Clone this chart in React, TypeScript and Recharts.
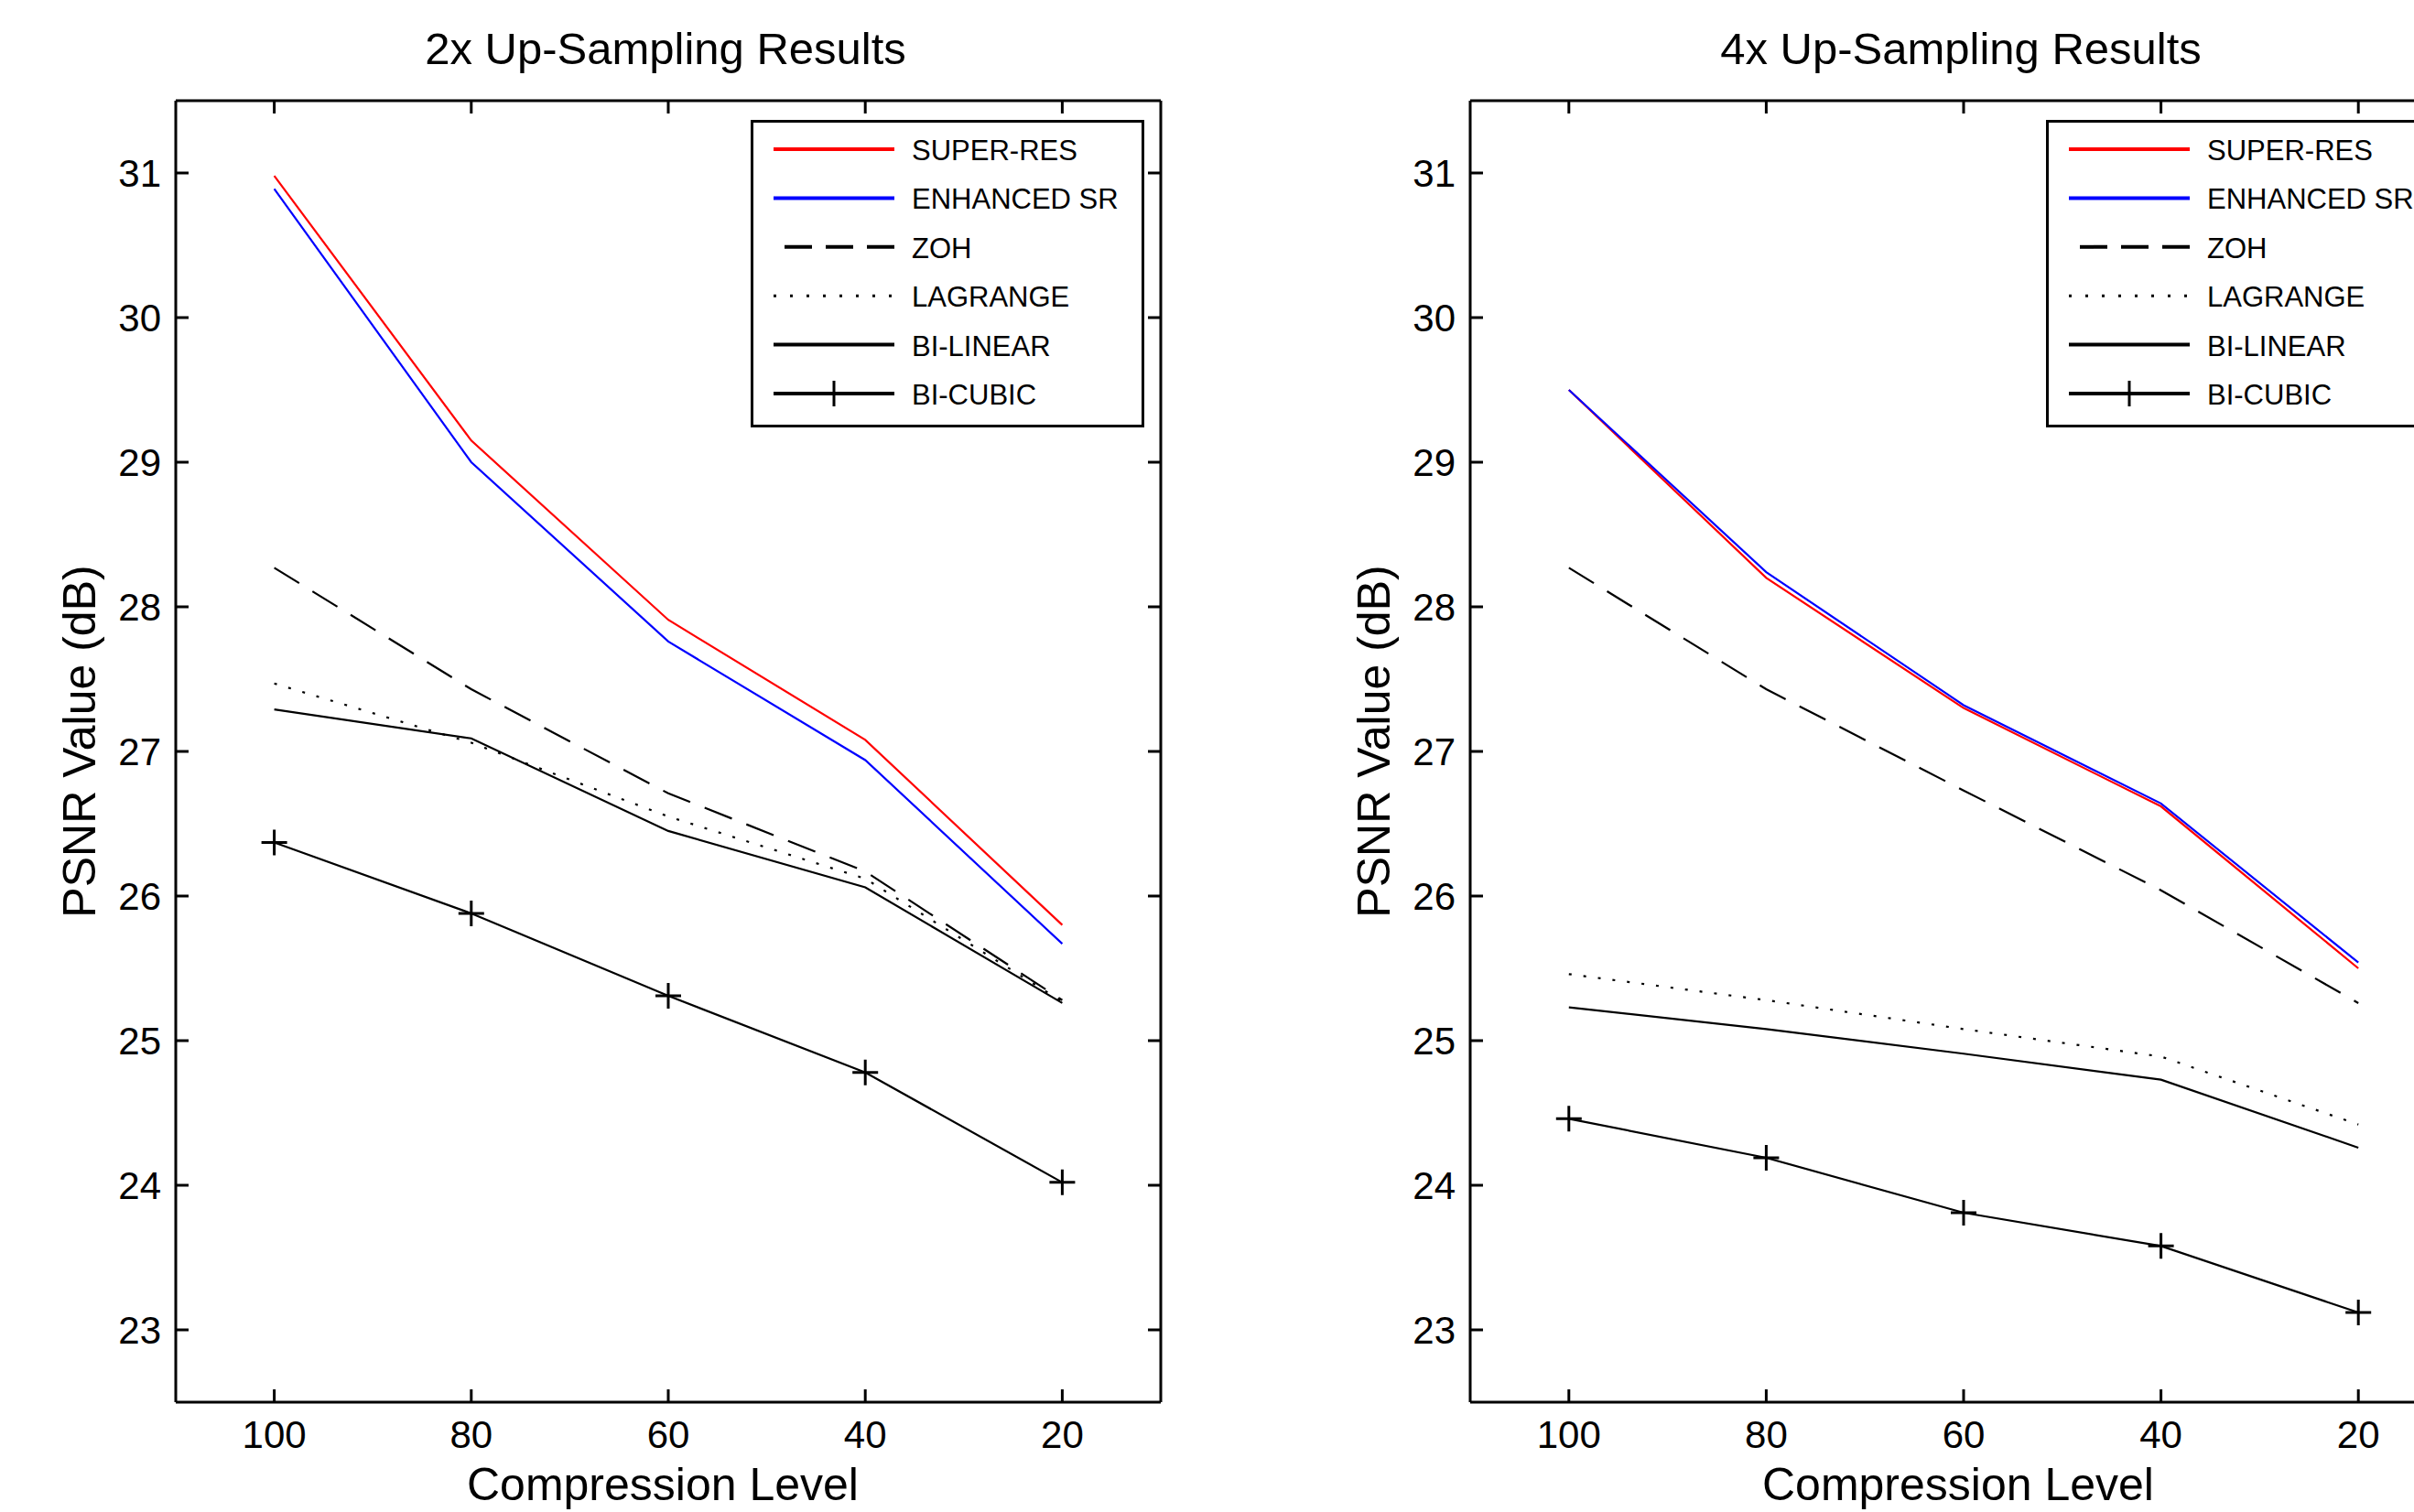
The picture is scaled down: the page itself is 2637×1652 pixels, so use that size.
import React from "react";
import { LineChart, Line, XAxis, YAxis, Legend, Label } from "recharts";

const FONT = '"Liberation Sans", Arial, sans-serif';

// compression levels on the x axis (plotted right-to-left)
const compressionLevels = [100, 80, 60, 40, 20];
const levelTicks = [100, 80, 60, 40, 20];
const psnrTicks = [23, 24, 25, 26, 27, 28, 29, 30, 31];

// 2x up-sampling PSNR (dB)
const superRes2x = [30.98, 29.15, 27.91, 27.08, 25.8];
const enhancedSr2x = [30.89, 29.0, 27.76, 26.94, 25.67];
const zoh2x = [28.27, 27.43, 26.71, 26.17, 25.28];
const lagrange2x = [27.47, 27.06, 26.55, 26.12, 25.27];
const bilinear2x = [27.29, 27.09, 26.45, 26.06, 25.26];
const bicubic2x = [26.37, 25.88, 25.31, 24.78, 24.02];

// 4x up-sampling PSNR (dB)
const superRes4x = [29.5, 28.2, 27.3, 26.62, 25.5];
const enhancedSr4x = [29.5, 28.24, 27.32, 26.64, 25.54];
const zoh4x = [28.27, 27.43, 26.73, 26.04, 25.26];
const lagrange4x = [25.46, 25.28, 25.08, 24.89, 24.42];
const bilinear4x = [25.23, 25.08, 24.91, 24.73, 24.26];
const bicubic4x = [24.46, 24.19, 23.81, 23.58, 23.12];

const series = [
  { key: "superRes", name: "SUPER-RES", color: "#ff0000", style: "solid", plus: false },
  { key: "enhancedSr", name: "ENHANCED SR", color: "#0000ff", style: "solid", plus: false },
  { key: "zoh", name: "ZOH", color: "#000000", style: "dashed", plus: false },
  { key: "lagrange", name: "LAGRANGE", color: "#000000", style: "dotted", plus: false },
  { key: "bilinear", name: "BI-LINEAR", color: "#000000", style: "solid", plus: false },
  { key: "bicubic", name: "BI-CUBIC", color: "#000000", style: "solid", plus: true },
];

const plotDash: Record<string, string | undefined> = { solid: undefined, dashed: "32 17", dotted: "3 13" };
const legendDash: Record<string, string | undefined> = { solid: undefined, dashed: "30 15", dotted: "3 15" };

const buildRows = (sr: number[], esr: number[], zoh: number[], lag: number[], bil: number[], bic: number[]) =>
  compressionLevels.map((level, i) => ({
    level,
    superRes: sr[i],
    enhancedSr: esr[i],
    zoh: zoh[i],
    lagrange: lag[i],
    bilinear: bil[i],
    bicubic: bic[i],
  }));

const rows2x = buildRows(superRes2x, enhancedSr2x, zoh2x, lagrange2x, bilinear2x, bicubic2x);
const rows4x = buildRows(superRes4x, enhancedSr4x, zoh4x, lagrange4x, bilinear4x, bicubic4x);

// MATLAB-style ticks point into the plot box
const BottomTick = (props: any) => {
  const { x, y, payload } = props;
  return (
    <g>
      <line x1={x} x2={x} y1={y} y2={y - 14} stroke="#000" strokeWidth={3} />
      <text x={x} y={y + 50} textAnchor="middle" fontSize={42} fontFamily={FONT} fill="#000">
        {payload.value}
      </text>
    </g>
  );
};

const LeftTick = (props: any) => {
  const { x, y, payload } = props;
  return (
    <g>
      <line x1={x} x2={x + 14} y1={y} y2={y} stroke="#000" strokeWidth={3} />
      <text x={x - 16} y={y + 15} textAnchor="end" fontSize={42} fontFamily={FONT} fill="#000">
        {payload.value}
      </text>
    </g>
  );
};

const TopTick = (props: any) => (
  <line x1={props.x} x2={props.x} y1={props.y} y2={props.y + 14} stroke="#000" strokeWidth={3} />
);

const RightTick = (props: any) => (
  <line x1={props.x} x2={props.x - 14} y1={props.y} y2={props.y} stroke="#000" strokeWidth={3} />
);

const PlusDot = (props: any) => {
  const { cx, cy } = props;
  if (cx == null || cy == null) return null;
  return (
    <path
      d={`M${cx - 14},${cy}H${cx + 14}M${cx},${cy - 14}V${cy + 14}`}
      stroke="#000"
      strokeWidth={3}
      fill="none"
    />
  );
};

// legend keeps the plotting order (recharts would sort it by name)
const LegendBox = () => (
  <svg width={430} height={336} style={{ display: "block" }}>
    <rect x={1.5} y={1.5} width={427} height={333} fill="#fff" stroke="#000" strokeWidth={3} />
    {series.map((s, i) => {
      const cy = 32 + i * 53.4;
      return (
        <g key={s.key}>
          <line
            x1={s.style === "dashed" ? 37 : 25}
            x2={157}
            y1={cy}
            y2={cy}
            stroke={s.color}
            strokeWidth={s.style === "dotted" ? 3 : 4}
            strokeDasharray={legendDash[s.style]}
          />
          {s.plus && <line x1={91} x2={91} y1={cy - 14} y2={cy + 14} stroke="#000" strokeWidth={3} />}
          <text x={176} y={cy + 12} fontSize={31} fontFamily={FONT} fill="#000">
            {s.name}
          </text>
        </g>
      );
    })}
  </svg>
);

interface PanelProps {
  title: string;
  rows: any[];
  width: number;
  marginLeft: number;
  marginRight: number;
  legendLeft: number;
}

const Panel = ({ title, rows, width, marginLeft, marginRight, legendLeft }: PanelProps) => (
  <LineChart
    width={width}
    height={1652}
    data={rows}
    margin={{ top: 100, right: marginRight, bottom: 0, left: marginLeft }}
    style={{ fontFamily: FONT }}
  >
    <XAxis
      xAxisId="b"
      dataKey="level"
      type="number"
      domain={[10, 110]}
      reversed
      ticks={levelTicks}
      orientation="bottom"
      height={120}
      tickSize={0}
      tickMargin={0}
      tickLine={false}
      axisLine={{ stroke: "#000", strokeWidth: 3 }}
      tick={<BottomTick />}
      interval={0}
      allowDataOverflow
    >
      <Label
        content={(p: any) => {
          const vb = p.viewBox;
          return (
            <text x={vb.x + vb.width / 2 - 6} y={vb.y + 107} textAnchor="middle" fontSize={50} fontFamily={FONT} fill="#000">
              Compression Level
            </text>
          );
        }}
      />
    </XAxis>
    <XAxis
      xAxisId="t"
      dataKey="level"
      type="number"
      domain={[10, 110]}
      reversed
      ticks={levelTicks}
      orientation="top"
      height={10}
      tickSize={0}
      tickMargin={0}
      tickLine={false}
      axisLine={{ stroke: "#000", strokeWidth: 3 }}
      tick={<TopTick />}
      interval={0}
      allowDataOverflow
    >
      <Label
        content={(p: any) => {
          const vb = p.viewBox;
          return (
            <text x={vb.x + vb.width / 2 - 3} y={vb.y + vb.height - 40} textAnchor="middle" fontSize={49} fontFamily={FONT} fill="#000">
              {title}
            </text>
          );
        }}
      />
    </XAxis>
    <YAxis
      yAxisId="l"
      type="number"
      domain={[22.5, 31.5]}
      ticks={psnrTicks}
      width={120}
      tickSize={0}
      tickMargin={0}
      tickLine={false}
      axisLine={{ stroke: "#000", strokeWidth: 3 }}
      tick={<LeftTick />}
      interval={0}
      allowDataOverflow
    >
      <Label
        content={(p: any) => {
          const vb = p.viewBox;
          const x = vb.x + vb.width - 88;
          const y = vb.y + vb.height / 2 - 11;
          return (
            <text x={x} y={y} transform={`rotate(-90, ${x}, ${y})`} textAnchor="middle" fontSize={50} fontFamily={FONT} fill="#000">
              PSNR Value (dB)
            </text>
          );
        }}
      />
    </YAxis>
    <YAxis
      yAxisId="r"
      orientation="right"
      type="number"
      domain={[22.5, 31.5]}
      ticks={psnrTicks}
      width={10}
      tickSize={0}
      tickMargin={0}
      tickLine={false}
      axisLine={{ stroke: "#000", strokeWidth: 3 }}
      tick={<RightTick />}
      interval={0}
      allowDataOverflow
    />
    {series.map((s) => (
      <Line
        key={s.key}
        xAxisId="b"
        yAxisId="l"
        type="linear"
        dataKey={s.key}
        name={s.name}
        stroke={s.color}
        strokeWidth={2.2}
        strokeDasharray={plotDash[s.style]}
        dot={s.plus ? (p: any) => <PlusDot key={`d-${p.index}`} {...p} /> : false}
        activeDot={false}
        isAnimationActive={false}
        legendType="line"
      />
    ))}
    <Legend
      layout="vertical"
      align="center"
      verticalAlign="middle"
      content={<LegendBox />}
      wrapperStyle={{ left: legendLeft, top: 131, width: 430, height: 336 }}
    />
  </LineChart>
);

const App = () => (
  <div
    style={{
      position: "absolute",
      left: 0,
      top: 0,
      width: 2637,
      height: 1652,
      overflow: "hidden",
      background: "#fff",
    }}
  >
    <div style={{ position: "absolute", left: 0, top: 0 }}>
      <Panel title="2x Up-Sampling Results" rows={rows2x} width={1320} marginLeft={72} marginRight={42} legendLeft={820} />
    </div>
    <div style={{ position: "absolute", left: 1320, top: 0 }}>
      <Panel title="4x Up-Sampling Results" rows={rows4x} width={1420} marginLeft={166} marginRight={46} legendLeft={915} />
    </div>
  </div>
);

export default App;
